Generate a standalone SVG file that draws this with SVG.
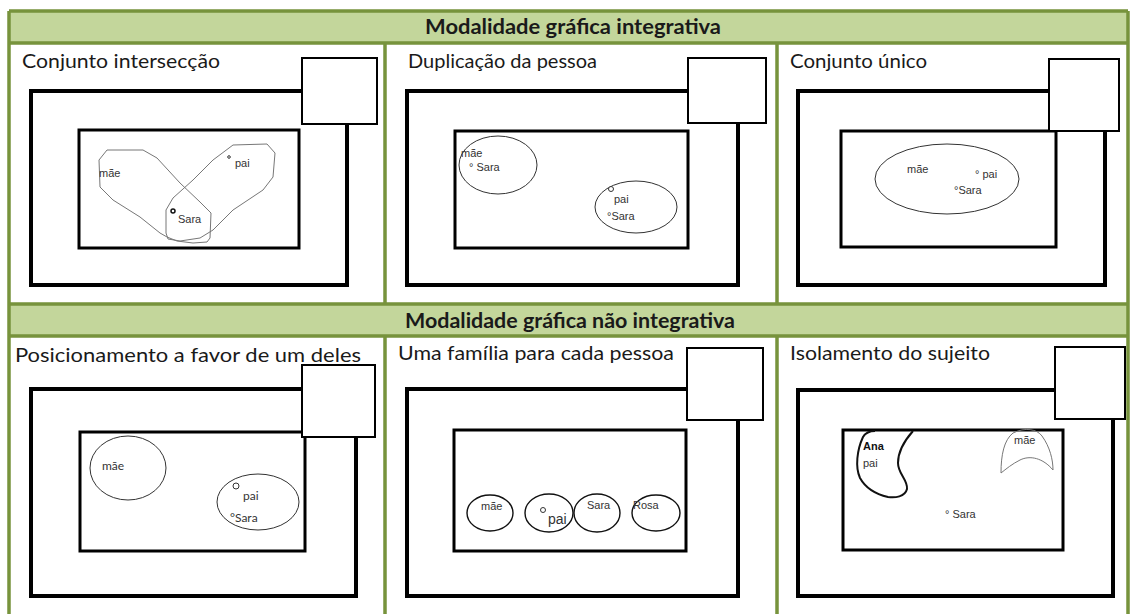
<svg xmlns="http://www.w3.org/2000/svg" width="1131" height="614" viewBox="0 0 1131 614">
<style>
.hdr{fill:#c3d69b}
.grid{stroke:#77933c;stroke-width:3.5;fill:none}
.outer{fill:none;stroke:#000;stroke-width:4}
.inner{fill:none;stroke:#000;stroke-width:3}
.sq{fill:#fff;stroke:#000;stroke-width:2}
.ell{fill:none;stroke:#333;stroke-width:1}
.ell2{fill:none;stroke:#111;stroke-width:1.4}
.dot{fill:#fff;stroke:#333;stroke-width:1}
.blob{fill:none;stroke:#777;stroke-width:1}
.title{font-family:Lato,"Open Sans",sans-serif;font-size:20px;fill:#1a1a1a}
.htxt{font-family:Lato,"Open Sans",sans-serif;font-size:21px;font-weight:bold;fill:#1a1a1a;text-anchor:middle}
.lbl{font-family:"Liberation Sans",Arial,sans-serif;font-size:11px;fill:#333}
.lbl2{font-family:Lato,"Open Sans",sans-serif;font-size:12px;fill:#333}
</style>
<rect x="0" y="0" width="1131" height="614" fill="#fff"/>
<g id="table">
<rect class="hdr" x="9" y="11" width="1119" height="32"/>
<rect class="hdr" x="9" y="304" width="1119" height="32"/>
<path class="grid" d="M9,11H1128M9,43H1128M9,304H1128M9,336H1128M9,11V614M1128,11V614M385,43V304M777,43V304M385,336V614M777,336V614"/>
<text class="htxt" x="573" y="34" textLength="296" lengthAdjust="spacingAndGlyphs">Modalidade gráfica integrativa</text>
<text class="htxt" x="570" y="328" textLength="330" lengthAdjust="spacingAndGlyphs">Modalidade gráfica não integrativa</text>
</g>
<g id="p1">
<text class="title" x="22" y="68" textLength="198" lengthAdjust="spacingAndGlyphs">Conjunto intersecção</text>
<rect class="outer" x="31" y="91" width="316" height="194"/>
<rect class="inner" x="79" y="130" width="220" height="118"/>
<rect class="sq" x="302" y="58" width="75" height="66"/>
<path class="blob" d="M107,150L143,150L157,158L180,183L200,202L211,213L210,238L207,242L193,243L177,241L167,237L160,233L140,217L113,200L100,187L99,160Z"/>
<path class="blob" d="M233,145L267,144L275,153L273,177L263,190L233,210L213,230L200,238L180,241L168,239L166,233L166,210L173,198L193,180L213,160Z"/>
<text class="lbl" x="99" y="177">mãe</text>
<circle class="dot" cx="229" cy="157" r="1.3"/>
<text class="lbl" x="235" y="167">pai</text>
<circle cx="173" cy="211" r="2" fill="none" stroke="#111" stroke-width="1.5"/>
<text class="lbl" x="178" y="223">Sara</text>
</g>
<g id="p2">
<text class="title" x="408" y="68" textLength="189" lengthAdjust="spacingAndGlyphs">Duplicação da pessoa</text>
<rect class="outer" x="407" y="91" width="331" height="194"/>
<rect class="inner" x="455" y="131" width="233" height="117"/>
<rect class="sq" x="688" y="58" width="78" height="65"/>
<ellipse class="ell" cx="498" cy="165" rx="39" ry="29"/>
<text class="lbl" x="461" y="157">mãe</text>
<text class="lbl" x="469" y="171">° Sara</text>
<ellipse class="ell" cx="636" cy="207" rx="41" ry="26"/>
<circle class="dot" cx="611" cy="189" r="2.5"/>
<text class="lbl" x="614" y="203">pai</text>
<text class="lbl" x="607" y="220">°Sara</text>
</g>
<g id="p3">
<text class="title" x="790" y="68" textLength="137" lengthAdjust="spacingAndGlyphs">Conjunto único</text>
<rect class="outer" x="798" y="91" width="307" height="194"/>
<rect class="inner" x="841" y="131" width="215" height="116"/>
<rect class="sq" x="1049" y="59" width="70" height="72"/>
<ellipse class="ell" cx="947" cy="179" rx="72" ry="35"/>
<text class="lbl" x="907" y="173">mãe</text>
<text class="lbl" x="975" y="178">° pai</text>
<text class="lbl" x="954" y="194">°Sara</text>
</g>
<g id="p4">
<text class="title" x="15" y="362" textLength="346" lengthAdjust="spacingAndGlyphs">Posicionamento a favor de um deles</text>
<rect class="outer" x="31" y="389" width="325" height="207"/>
<rect class="inner" x="80" y="432" width="225" height="119"/>
<rect class="sq" x="302" y="365" width="73" height="72"/>
<ellipse class="ell" cx="128" cy="468" rx="38" ry="32"/>
<text class="lbl2" x="102" y="470">mãe</text>
<ellipse class="ell" cx="258" cy="502" rx="41" ry="28"/>
<circle class="dot" cx="236" cy="486" r="3"/>
<text class="lbl2" x="243" y="500">pai</text>
<text class="lbl2" x="230" y="522">°Sara</text>
</g>
<g id="p5">
<text class="title" x="398" y="360" textLength="276" lengthAdjust="spacingAndGlyphs">Uma família para cada pessoa</text>
<rect class="outer" x="407" y="389" width="331" height="207"/>
<rect class="inner" x="454" y="430" width="232" height="121"/>
<rect class="sq" x="687" y="348" width="76" height="72"/>
<ellipse class="ell2" cx="490" cy="513" rx="23" ry="18"/>
<ellipse class="ell2" cx="549" cy="513" rx="24" ry="19"/>
<ellipse class="ell2" cx="597" cy="513" rx="23" ry="19"/>
<ellipse class="ell2" cx="656" cy="513" rx="24" ry="18"/>
<text class="lbl" x="481" y="510">mãe</text>
<circle class="dot" cx="543" cy="510" r="2.5"/>
<text class="lbl" x="548" y="524" style="font-size:14px">pai</text>
<text class="lbl" x="587" y="509">Sara</text>
<text class="lbl" x="633" y="509">Rosa</text>
</g>
<g id="p6">
<text class="title" x="790" y="360" textLength="200" lengthAdjust="spacingAndGlyphs">Isolamento do sujeito</text>
<rect class="outer" x="798" y="390" width="315" height="206"/>
<rect class="inner" x="843" y="430" width="220" height="120"/>
<rect class="sq" x="1055" y="347" width="70" height="72"/>
<path d="M913,431C905,440 898,450 898,463C898,474 908,480 907,489C905,497 895,498 888,497C875,494 865,487 860,478C855,467 857,450 863,437C866,432 870,431 875,431" fill="none" stroke="#111" stroke-width="2"/>
<text class="lbl" x="863" y="450" style="font-weight:bold;fill:#111">Ana</text>
<text class="lbl" x="863" y="467">pai</text>
<path class="blob" d="M1001,473C1001,455 1004,440 1013,433C1025,427 1037,429 1042,436C1050,447 1053,460 1053,470C1043,458 1030,455 1020,460C1012,464 1006,469 1001,473Z"/>
<text class="lbl" x="1014" y="444">mãe</text>
<text class="lbl" x="945" y="518">° Sara</text>
</g>
</svg>
